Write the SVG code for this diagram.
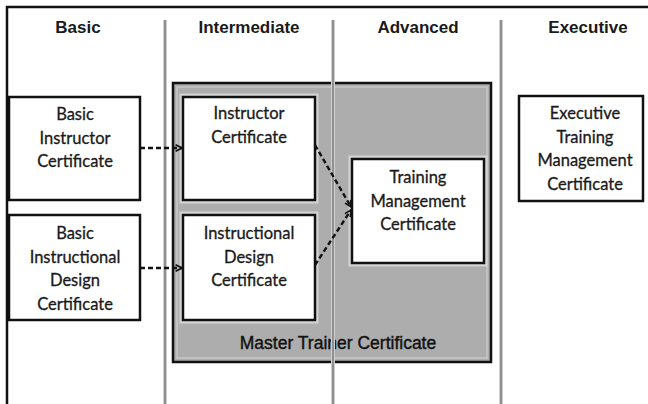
<svg xmlns="http://www.w3.org/2000/svg" width="648" height="404" viewBox="0 0 648 404">
<defs>
<style>
.hdr{font-family:"Liberation Sans",Arial,sans-serif;font-weight:bold;font-size:17px;fill:#1a1a1a;text-anchor:middle}
.lbl{font-family:Lato,"Liberation Sans",sans-serif;font-size:16.5px;fill:#1a1a1a;text-anchor:middle;stroke:#1a1a1a;stroke-width:0.3}
.mst{font-family:"Liberation Sans",Arial,sans-serif;font-size:17.5px;fill:#111;text-anchor:middle;stroke:#111;stroke-width:0.4}
.box{fill:#fff;stroke:#111;stroke-width:2.5}
.halo{fill:none;stroke:#d4d4d4;stroke-width:7}
.col{stroke:#7a7a7a;stroke-width:1.5}
.colh{stroke:#cfcfcf;stroke-width:4}
.con{fill:none;stroke:#111;stroke-width:2.4;stroke-dasharray:5 3}
</style>
<marker id="arr" viewBox="0 0 10 10" refX="9" refY="5" markerWidth="8" markerHeight="8" markerUnits="userSpaceOnUse" orient="auto">
<path d="M1,1 L9,5 L1,9" fill="none" stroke="#111" stroke-width="2"/>
</marker>
</defs>
<rect x="0" y="0" width="648" height="404" fill="#fff"/>
<g id="frame">
<path d="M7,404 V7 H648" fill="none" stroke="#111" stroke-width="2.5"/>
</g>
<g id="headers">
<text class="hdr" x="78" y="33">Basic</text>
<text class="hdr" x="249" y="33">Intermediate</text>
<text class="hdr" x="418" y="33">Advanced</text>
<text class="hdr" x="588" y="33">Executive</text>
</g>
<g id="master">
<rect x="173" y="83" width="318" height="279" fill="#adadad" stroke="#111" stroke-width="2.5"/>
<rect x="177" y="87" width="310" height="271" fill="none" stroke="#c8c8c8" stroke-width="1.5"/>
<text class="mst" x="338" y="349">Master Trainer Certificate</text>
</g>
<g id="columns">
<line class="colh" x1="165" y1="20" x2="165" y2="404"/>
<line class="colh" x1="333" y1="20" x2="333" y2="404"/>
<line class="colh" x1="501" y1="20" x2="501" y2="404"/>
<line class="col" x1="165" y1="20" x2="165" y2="404"/>
<line class="col" x1="333" y1="20" x2="333" y2="404"/>
<line class="col" x1="501" y1="20" x2="501" y2="404"/>
</g>
<g id="basic-instructor">
<rect class="box" x="9" y="97" width="131" height="103"/>
<text class="lbl" x="75" y="120">Basic</text>
<text class="lbl" x="75" y="143.5">Instructor</text>
<text class="lbl" x="75" y="167">Certificate</text>
</g>
<g id="basic-design">
<rect class="box" x="9" y="215" width="131" height="105"/>
<text class="lbl" x="75" y="239">Basic</text>
<text class="lbl" x="75" y="262.5">Instructional</text>
<text class="lbl" x="75" y="286">Design</text>
<text class="lbl" x="75" y="309.5">Certificate</text>
</g>
<g id="instructor">
<rect class="halo" x="183" y="97" width="132" height="103"/>
<rect class="box" x="183" y="97" width="132" height="103"/>
<text class="lbl" x="249" y="119">Instructor</text>
<text class="lbl" x="249" y="142.5">Certificate</text>
</g>
<g id="design">
<rect class="halo" x="183" y="215" width="132" height="105"/>
<rect class="box" x="183" y="215" width="132" height="105"/>
<text class="lbl" x="249" y="239">Instructional</text>
<text class="lbl" x="249" y="262.5">Design</text>
<text class="lbl" x="249" y="286">Certificate</text>
</g>
<g id="training-management">
<rect class="halo" x="352" y="159" width="132" height="104"/>
<rect class="box" x="352" y="159" width="132" height="104"/>
<text class="lbl" x="418" y="183">Training</text>
<text class="lbl" x="418" y="206.5">Management</text>
<text class="lbl" x="418" y="230">Certificate</text>
</g>
<g id="executive">
<rect class="box" x="519" y="96" width="124" height="105"/>
<text class="lbl" x="585" y="119">Executive</text>
<text class="lbl" x="585" y="142.5">Training</text>
<text class="lbl" x="585" y="166">Management</text>
<text class="lbl" x="585" y="189.5">Certificate</text>
</g>
<g id="connectors">
<path class="con" d="M140,148 H182" marker-end="url(#arr)"/>
<path class="con" d="M140,268 H182" marker-end="url(#arr)"/>
<path class="con" d="M315,145 L351,207" marker-end="url(#arr)"/>
<path class="con" d="M315,265 L351,210" marker-end="url(#arr)"/>
</g>
</svg>
